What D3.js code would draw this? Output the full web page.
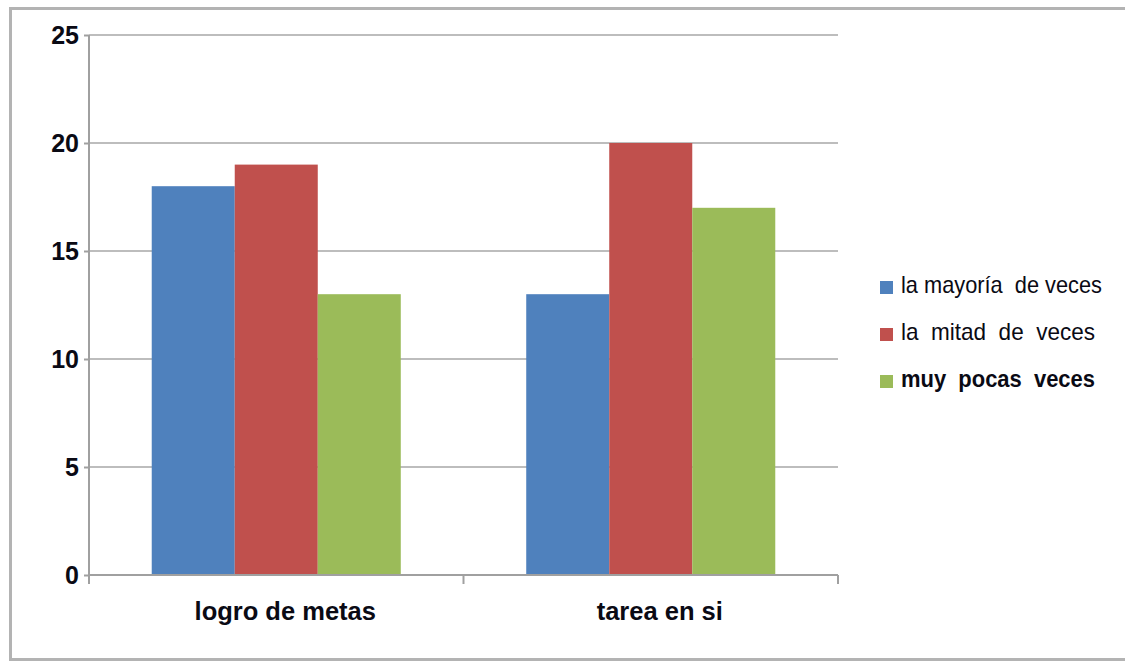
<!DOCTYPE html>
<meta charset="utf-8">
<script src="https://d3js.org/d3.v7.min.js"></script>
<style>
body { margin: 0; background: #fff; }
text { font-family: "Liberation Sans", Arial, sans-serif; }
</style>
<div id="chart"></div>
<script>

// data
var categories = ["logro de metas", "tarea en si"];
var seriesNames = ["la mayoría  de veces", "la  mitad  de  veces", "muy  pocas  veces"];
var seriesColors = ["#4f81bd", "#c0504d", "#9bbb59"];
var mayoria = [18, 13];
var mitad = [19, 20];
var pocas = [13, 17];
var yTicks = [0, 5, 10, 15, 20, 25];

var values = [mayoria, mitad, pocas];
var data = categories.map(function(c, i) {
  return { cat: c, vals: values.map(function(s) { return s[i]; }) };
});

var W = 1125, H = 662;
var svg = d3.select("#chart").append("svg")
  .attr("width", W).attr("height", H);

// outer frame (open on the right)
svg.append("path")
  .attr("d", "M1125,8.5 H10.5 V659.5 H1125")
  .attr("fill", "none")
  .attr("stroke", "#b3b3b3")
  .attr("stroke-width", 3);

var plotLeft = 89, plotRight = 838, plotTop = 35, plotBottom = 575;

var y = d3.scaleLinear().domain([0, 25]).range([plotBottom, plotTop]);
var x0 = d3.scaleBand().domain(categories).range([plotLeft, plotRight])
  .paddingInner(0.335).paddingOuter(0.1675);
var x1 = d3.scaleBand().domain(d3.range(seriesNames.length))
  .range([0, x0.bandwidth()]);

// gridlines
svg.append("g").selectAll("line")
  .data(yTicks.filter(function(d) { return d > 0; }))
  .enter().append("line")
    .attr("x1", plotLeft).attr("x2", plotRight)
    .attr("y1", function(d) { return Math.round(y(d)); })
    .attr("y2", function(d) { return Math.round(y(d)); })
    .attr("stroke", "#bdbdbd").attr("stroke-width", 2);

// bars
svg.append("g").selectAll("g")
  .data(data).enter().append("g")
    .attr("transform", function(d) { return "translate(" + x0(d.cat) + ",0)"; })
  .selectAll("rect")
  .data(function(d) { return d.vals; })
  .enter().append("rect")
    .attr("x", function(d, i) { return x1(i); })
    .attr("width", x1.bandwidth())
    .attr("y", function(d) { return y(d); })
    .attr("height", function(d) { return y(0) - y(d); })
    .attr("fill", function(d, i) { return seriesColors[i]; });

// y axis
var yAxis = svg.append("g")
  .attr("transform", "translate(" + plotLeft + ",0)")
  .call(d3.axisLeft(y).tickValues(yTicks).tickSize(5).tickPadding(5));
yAxis.select(".domain").attr("stroke", "#a0a0a0").attr("stroke-width", 2)
  .attr("d", "M0," + plotTop + "V" + plotBottom);
yAxis.selectAll(".tick line").attr("stroke", "#a0a0a0").attr("stroke-width", 2);
yAxis.selectAll(".tick text")
  .attr("font-size", 25).attr("font-weight", "bold").attr("fill", "#0a0a14")
  .attr("dy", "0.34em")
  .style("font-family", "'Liberation Sans', Arial, sans-serif");

// x axis
var xAxisG = svg.append("g").attr("transform", "translate(0," + plotBottom + ")");
xAxisG.append("line").attr("x1", plotLeft).attr("x2", plotRight)
  .attr("stroke", "#a0a0a0").attr("stroke-width", 2);
xAxisG.selectAll("line.tk")
  .data([plotLeft, (plotLeft + plotRight) / 2, plotRight])
  .enter().append("line").attr("class", "tk")
    .attr("x1", function(d) { return d; }).attr("x2", function(d) { return d; })
    .attr("y1", 0).attr("y2", 9)
    .attr("stroke", "#a0a0a0").attr("stroke-width", 2);
xAxisG.selectAll("text")
  .data(categories).enter().append("text")
    .attr("x", function(d) { return x0(d) + x0.bandwidth() / 2 + 9; })
    .attr("y", 45)
    .attr("text-anchor", "middle")
    .attr("font-size", 25.5).attr("font-weight", "bold").attr("fill", "#0a0a14")
    .text(function(d) { return d; });

// legend
var legend = svg.append("g").attr("transform", "translate(880,281)");
var item = legend.selectAll("g").data(seriesNames).enter().append("g")
  .attr("transform", function(d, i) { return "translate(0," + (i * 47) + ")"; });
item.append("rect")
  .attr("x", 0).attr("y", 0).attr("width", 13).attr("height", 13)
  .attr("fill", function(d, i) { return seriesColors[i]; });
item.append("text")
  .attr("x", 21).attr("y", 12)
  .attr("font-size", 24).attr("fill", "#0a0a14")
  .attr("font-weight", function(d, i) { return i === 2 ? "bold" : "normal"; })
  .style("font-family", "'Liberation Sans Narrow', 'Liberation Sans', Arial, sans-serif")
  .style("white-space", "pre")
  .attr("textLength", function(d, i) { return [201, 194, 194][i]; })
  .attr("lengthAdjust", "spacingAndGlyphs")
  .text(function(d) { return d; });

</script>
